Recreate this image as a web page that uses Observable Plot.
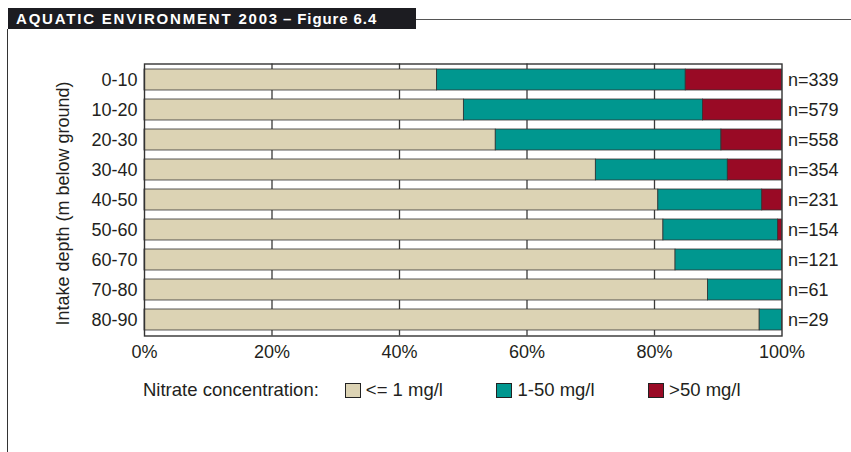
<!DOCTYPE html>
<html><head><meta charset="utf-8">
<script src="https://cdn.jsdelivr.net/npm/d3@7"></script>
<script src="https://cdn.jsdelivr.net/npm/@observablehq/plot@0.6"></script>
<style>
body{margin:0;background:#fff;}
#wrap{position:relative;width:851px;height:452px;overflow:hidden;font-family:"Liberation Sans",Arial,Helvetica,sans-serif;color:#231f20;}
#hdr{position:absolute;left:8px;top:8px;width:408px;height:21px;background:#1c1c21;color:#fff;font-weight:bold;font-size:15px;line-height:21px;padding-left:8px;box-sizing:border-box;white-space:nowrap;}
#hdr .caps{letter-spacing:1.8px;}
#hdr .fig{letter-spacing:0.9px;margin-left:4px;}
#hline{position:absolute;left:416px;top:19px;width:435px;height:0;border-top:1.5px solid #555;}
#vline{position:absolute;left:7px;top:29px;width:0;height:423px;border-left:1px solid #333;}
#chart{position:absolute;left:0;top:0;}
#legend{position:absolute;left:143px;top:378px;display:flex;align-items:center;font-size:18.5px;height:24px;white-space:nowrap;}
#legend .lab{margin-right:26px;}
.sw{width:14px;height:13px;border:1px solid #222;margin-right:5px;}
.item{display:flex;align-items:center;margin-right:53.5px;}
</style></head>
<body>
<div id="wrap">
  <div id="hdr"><span class="caps">AQUATIC ENVIRONMENT 2003</span><span class="fig">– Figure 6.4</span></div>
  <div id="hline"></div>
  <div id="vline"></div>
  <div id="chart"></div>
  <div id="legend"></div>
</div>
<script>
const depths = ["0-10","10-20","20-30","30-40","40-50","50-60","60-70","70-80","80-90"];
const low  = [45.9, 50.1, 55.1, 70.8, 80.6, 81.4, 83.3, 88.4, 96.5];
const mid  = [39.0, 37.5, 35.4, 20.7, 16.3, 18.0, 16.7, 11.6, 3.5];
const high = [15.1, 12.4, 9.5, 8.5, 3.1, 0.6, 0, 0, 0];
const counts = [339, 579, 558, 354, 231, 154, 121, 61, 29];
const categories = ["<= 1 mg/l", "1-50 mg/l", ">50 mg/l"];
const colors = ["#dcd3b4", "#00978f", "#990a25"];
const xTicks = [0, 20, 40, 60, 80, 100];
const legendTitle = "Nitrate concentration:";
const yTitle = "Intake depth (m below ground)";

const series = [low, mid, high];
const rows = depths.flatMap((d, i) =>
  categories.map((c, j) => ({depth: d, cat: c, value: series[j][i]}))
).filter(r => r.value > 0);
const nRows = depths.map((d, i) => ({depth: d, n: counts[i]}));

const chart = Plot.plot({
  width: 851, height: 360,
  marginLeft: 144, marginRight: 69.5, marginTop: 63.5, marginBottom: 24.5,
  style: {fontFamily: '"Liberation Sans", Arial, Helvetica, sans-serif', fontSize: "18px", color: "#231f20", background: "transparent", overflow: "visible"},
  x: {domain: [0, 100], ticks: xTicks, tickFormat: d => d + "%", tickSize: 0, tickPadding: 9, label: null},
  y: {domain: depths, paddingInner: 0.29, paddingOuter: 0.15, tickSize: 0, tickPadding: 7, label: null},
  color: {domain: categories, range: colors},
  marks: [
    Plot.ruleX(xTicks.slice(1, -1), {stroke: "#3a3a3a", strokeWidth: 1.3}),
    Plot.barX(rows, {x: "value", y: "depth", fill: "cat", stroke: "#333", strokeWidth: 0.8}),
    Plot.frame({stroke: "#333", strokeWidth: 1.4}),
    Plot.text(nRows, {y: "depth", text: d => "n=" + d.n, frameAnchor: "right", textAnchor: "start", dx: 6, fill: "#231f20"}),
    Plot.text([yTitle], {text: d => d, frameAnchor: "left", textAnchor: "middle", rotate: -90, dx: -81.5, dy: 3.5, lineAnchor: "middle", fill: "#231f20", fontSize: 18})
  ]
});
document.getElementById("chart").appendChild(chart);

const leg = document.getElementById("legend");
const t = document.createElement("span"); t.className = "lab"; t.textContent = legendTitle; leg.appendChild(t);
categories.forEach((c, i) => {
  const it = document.createElement("span"); it.className = "item";
  const sw = document.createElement("span"); sw.className = "sw"; sw.style.background = colors[i];
  const tx = document.createElement("span"); tx.textContent = c;
  it.appendChild(sw); it.appendChild(tx); leg.appendChild(it);
});
</script>
</body></html>
